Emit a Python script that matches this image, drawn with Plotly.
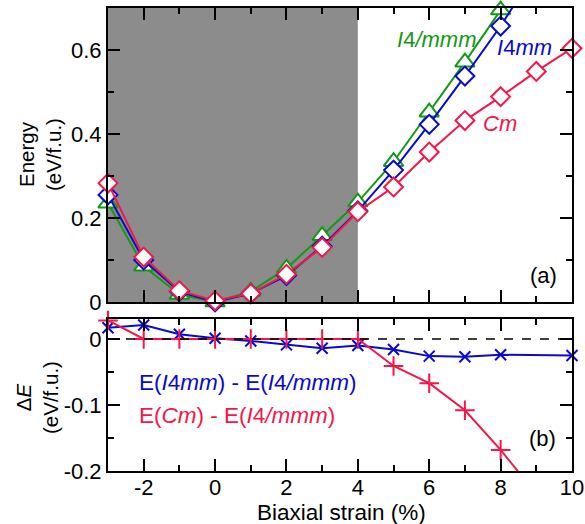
import plotly.graph_objects as go

strain = [-3, -2, -1, 0, 1, 2, 3, 4, 5, 6, 7, 8, 9]
e_i4mmm = [0.235, 0.085, 0.018, 0.0, 0.025, 0.08, 0.158, 0.238, 0.334, 0.452, 0.571, 0.695, 0.82]
e_i4mm = [0.255, 0.10, 0.025, 0.0, 0.02, 0.063, 0.133, 0.217, 0.314, 0.423, 0.538, 0.657, 0.79]
strain_cm = [-3, -2, -1, 0, 1, 2, 3, 4, 5, 6, 7, 8, 9, 10]
e_cm = [0.283, 0.107, 0.027, 0.003, 0.02, 0.066, 0.13, 0.215, 0.274, 0.357, 0.432, 0.489, 0.549, 0.604]

strain_d1 = [-3, -2, -1, 0, 1, 2, 3, 4, 5, 6, 7, 8, 10]
de_i4mm = [0.017, 0.021, 0.007, 0.001, -0.003, -0.009, -0.014, -0.01, -0.016, -0.026, -0.027, -0.024, -0.025]
strain_d2 = [-3, -2, -1, 0, 1, 2, 3, 4, 5, 6, 7, 8, 9]
de_cm = [0.028, 0.0, 0.0, 0.0, 0.0, 0.0, 0.0, 0.0, -0.041, -0.067, -0.108, -0.168, -0.235]

x_ticks = [-2, 0, 2, 4, 6, 8, 10]
x_ticktext = ["-2", "0", "2", "4", "6", "8", "10"]
y1_ticks = [0, 0.2, 0.4, 0.6]
y1_ticktext = ["0", "0.2", "0.4", "0.6"]
y2_ticks = [-0.2, -0.1, 0]
y2_ticktext = ["-0.2", "-0.1", "0"]

X_RANGE = [-3, 10]
Y1_RANGE = [0, 0.7]
Y2_RANGE = [-0.2, 0.03]

GREEN = "#129a12"
BLUE = "#0a0acd"
RED = "#f5174a"
FONT = "Liberation Sans"

W, H = 585, 524
ML, MR, MT, MB = 108, 13, 8, 53
PW, PH = W - ML - MR, H - MT - MB


def px(x):
    return (x - ML) / PW


def py(y):
    return (H - MB - y) / PH


def inside(xs, ys, yr):
    pts = [(a, b) for a, b in zip(xs, ys) if X_RANGE[0] <= a <= X_RANGE[1] and yr[0] <= b <= yr[1]]
    return [p[0] for p in pts], [p[1] for p in pts]


fig = go.Figure()


def add_series(xs, ys, color, symbol, size, xa, ya, yr, fill="white", mlw=2):
    fig.add_trace(go.Scatter(x=xs, y=ys, mode="lines", line=dict(color=color, width=2),
                             xaxis=xa, yaxis=ya, showlegend=False, hoverinfo="skip"))
    mx, my = inside(xs, ys, yr)
    fig.add_trace(go.Scatter(x=mx, y=my, mode="markers", cliponaxis=False,
                             marker=dict(symbol=symbol, size=size, color=fill,
                                         line=dict(color=color, width=mlw)),
                             xaxis=xa, yaxis=ya, showlegend=False))


add_series(strain, e_i4mmm, GREEN, "triangle-up", 17, "x", "y", Y1_RANGE)
add_series(strain, e_i4mm, BLUE, "diamond", 14.5, "x", "y", Y1_RANGE)
add_series(strain_cm, e_cm, RED, "diamond", 14.5, "x", "y", Y1_RANGE)
add_series(strain_d1, de_i4mm, BLUE, "x-thin", 11, "x2", "y2", Y2_RANGE, fill=BLUE, mlw=2)
add_series(strain_d2, de_cm, RED, "cross-thin", 14, "x2", "y2", Y2_RANGE, fill=RED, mlw=2)

axis_common = dict(showline=True, linecolor="black", linewidth=2, mirror="ticks",
                   ticks="inside", ticklen=12, tickwidth=1.5, tickcolor="black",
                   showgrid=False, zeroline=False, automargin=False,
                   tickfont=dict(family=FONT, size=22, color="black"))
minor_common = dict(ticks="inside", ticklen=6, tickwidth=1.5, tickcolor="black", showgrid=False)

fig.update_layout(
    width=W, height=H,
    margin=dict(l=ML, r=MR, t=MT, b=MB, autoexpand=False),
    paper_bgcolor="white", plot_bgcolor="white",
    font=dict(family=FONT, color="black"),
    xaxis=dict(domain=[0, 1], range=X_RANGE, anchor="y", tickvals=x_ticks, ticktext=x_ticktext,
               showticklabels=False, minor=dict(dtick=1, tick0=0, **minor_common), **axis_common),
    yaxis=dict(domain=[0.365, 1], range=Y1_RANGE, anchor="x", tickvals=y1_ticks, ticktext=y1_ticktext,
               minor=dict(dtick=0.1, tick0=0, **minor_common), **axis_common),
    xaxis2=dict(domain=[0, 1], range=X_RANGE, anchor="y2", tickvals=x_ticks, ticktext=x_ticktext,
                ticklabelstandoff=-4,
                minor=dict(dtick=1, tick0=0, **minor_common), **axis_common),
    yaxis2=dict(domain=[0, 0.328], range=Y2_RANGE, anchor="x2", tickvals=y2_ticks, ticktext=y2_ticktext,
                minor=dict(dtick=0.05, tick0=0, **minor_common), **axis_common),
)

fig.add_shape(type="rect", xref="x", yref="y", x0=-3, x1=4, y0=0, y1=0.7,
              fillcolor="#8c8c8c", line=dict(width=0), layer="below")
fig.add_shape(type="line", xref="x2", yref="y2", x0=-3, x1=10, y0=0, y1=0,
              line=dict(color="black", width=1.5, dash="dash"), layer="above")

ann = [
    ("<i>I</i>4<i>/mmm</i>", 436, 40, GREEN, 22, "center"),
    ("<i>I</i>4<i>mm</i>", 524, 48, BLUE, 22, "center"),
    ("<i>Cm</i>", 500, 123, RED, 22, "center"),
    ("(a)", 543, 275, "black", 22, "center"),
    ("(b)", 542, 438, "black", 22, "center"),
    ("E(<i>I</i>4<i>mm</i>) - E(<i>I</i>4<i>/mmm</i>)", 137, 382, BLUE, 22.5, "left"),
    ("E(<i>Cm</i>) - E(<i>I</i>4<i>/mmm</i>)", 137, 415, RED, 22.5, "left"),
    ("Biaxial strain (%)", 341, 512, "black", 22.5, "center"),
]
for text, x, y, c, s, xa in ann:
    fig.add_annotation(text=text, xref="paper", yref="paper", x=px(x), y=py(y),
                       xanchor=xa, yanchor="middle", showarrow=False,
                       font=dict(family=FONT, size=s, color=c))

fig.add_annotation(text="Energy<br>(eV/f.u.)", xref="paper", yref="paper", x=px(40), y=py(155),
                   textangle=-90, showarrow=False, xanchor="center", yanchor="middle",
                   font=dict(family=FONT, size=20.5, color="black"))
fig.add_annotation(text="Δ<i>E</i><br>(eV/f.u.)", xref="paper", yref="paper", x=px(37), y=py(398),
                   textangle=-90, showarrow=False, xanchor="center", yanchor="middle",
                   font=dict(family=FONT, size=20.5, color="black"))

fig.write_html("out.html")
